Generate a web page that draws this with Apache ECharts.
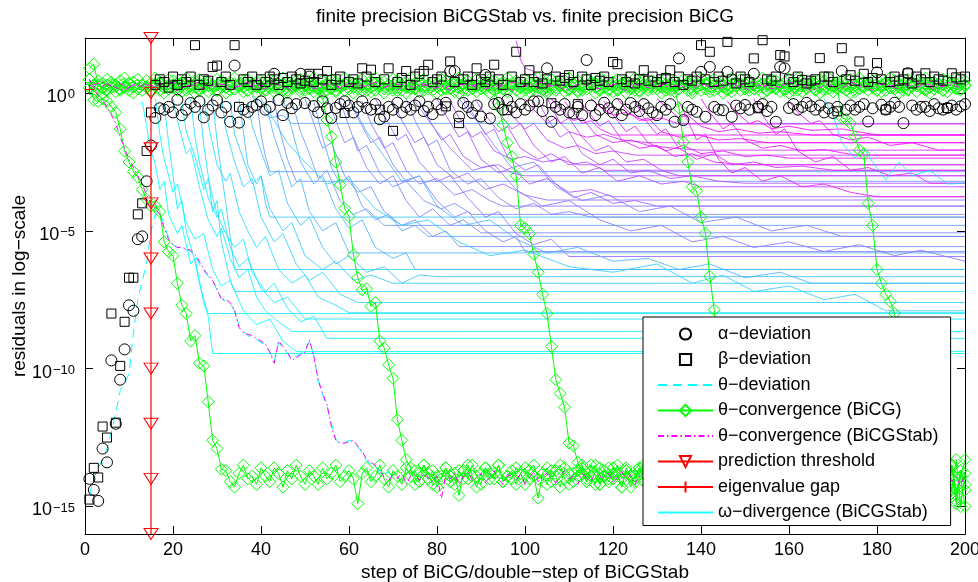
<!DOCTYPE html>
<html><head><meta charset="utf-8">
<script src="https://cdn.jsdelivr.net/npm/echarts@6/dist/echarts.min.js"></script>
<style>html,body{margin:0;padding:0;background:#fff}#c{width:978px;height:582px}</style>
</head><body><div id="c"></div>
<script>
// ---- axis ticks ----
const xRange = [0, 200];
const xTickStep = 20;
const yRangeExp = [-16, 2];           // residual exponents (log10)
const yTickExponents = [-15, -10, -5, 0];

// ---- alpha / beta deviation (log10 of residual), steps 1..200 ----
const alphaDeviation = [
-14.0,-14.4,-14.8,-12.9,-13.4,-9.7,-12.0,-10.4,-9.3,-7.7,-7.9,-5.3,-5.2,-3.2,-1.9,
-0.9,-0.55,-0.6,-0.5,-0.7,-0.24,-0.8,-0.6,-0.36,-0.5,-0.3,-0.88,-0.6,-0.45,-0.25,
-0.7,-0.5,-1.04,1.0,-1.07,-0.6,-0.68,-0.5,-0.43,-0.3,
-0.6,-0.5,0.7,-0.25,-0.8,-0.36,-0.55,-0.4,0.7,-0.36,
0.6,-0.47,-0.7,-0.3,-0.55,-0.9,-0.54,-0.4,-0.3,-0.45,
-0.7,-0.5,-0.3,-0.54,-0.6,-0.4,-0.95,-0.85,-0.5,-0.6,
-0.35,-0.7,-0.5,-0.6,-0.45,-0.3,-0.65,-0.5,-0.76,-0.4,
-0.6,-0.35,0.8,0.8,-0.85,-0.36,-0.5,-0.72,-0.45,-0.85,
0.66,-0.92,-0.4,-0.36,-0.6,-0.25,-0.5,-0.7,-0.4,-0.6,
-0.45,-0.3,-0.3,-0.65,0.9,-1.04,-0.5,-0.6,-0.4,-0.7,
-0.74,-0.5,-0.8,1.2,-0.45,-0.8,-0.6,-0.35,-0.55,-0.7,
-0.4,-0.8,-0.6,-0.36,-0.5,-0.65,-0.4,-0.55,-0.7,-0.8,
-0.5,-0.6,-0.4,-1.04,1.26,-0.98,-0.5,-0.6,-0.68,0.77,
-0.86,0.95,-0.5,-0.6,-0.62,0.77,-0.86,-0.45,-0.55,-0.43,
-0.6,0.7,-0.5,-0.4,-0.65,-0.5,-1.04,0.95,0.9,-0.54,
-0.4,-0.6,-0.5,-0.35,-0.48,-0.6,-0.45,-0.7,-0.55,-0.72,
-0.5,0.8,-0.6,-0.45,-0.6,-0.5,-0.4,-1.03,-0.55,0.75,
-0.42,-0.6,-0.5,-0.35,-0.5,-1.09,0.72,-0.45,-0.6,-0.5,
-0.5,-0.65,-0.4,-0.55,-0.6,-0.54,-0.45,-0.6,-0.48,-0.4];

const betaDeviation = [
-14.75,-13.6,-13.95,-12.1,-12.5,-8.0,-11.96,-9.9,-8.3,-6.7,-6.7,-4.4,-4.0,-2.1,-0.7,
0.3,0.5,0.4,0.2,0.6,0.3,0.5,0.4,0.6,1.74,0.3,0.5,0.45,0.95,1.0,
0.4,0.6,0.3,1.74,-0.5,0.5,0.4,0.6,0.3,0.5,
0.4,0.6,0.5,0.3,0.55,0.4,0.6,0.5,0.35,0.45,
0.7,0.4,0.7,0.5,0.8,0.3,0.5,0.6,-0.72,0.4,
0.5,0.35,0.9,0.6,0.85,0.4,-0.6,0.5,0.9,-1.37,
0.4,0.55,0.8,0.3,0.6,0.7,0.8,1.03,0.4,0.5,
0.6,-0.48,1.15,0.4,-1.09,0.5,0.6,0.3,0.9,0.5,
0.4,0.6,1.03,0.5,0.3,-0.62,0.6,1.5,0.4,0.5,
0.83,0.4,0.6,0.35,0.5,-0.37,0.6,0.45,0.55,0.65,
0.4,-0.4,0.6,0.5,0.3,0.55,0.45,0.6,0.4,1.13,
1.05,0.5,0.4,0.6,0.35,0.5,0.83,0.45,0.6,0.4,
0.5,0.55,0.83,0.4,0.6,0.3,0.5,0.45,0.6,1.74,
0.5,1.5,0.4,0.6,0.45,1.86,0.5,0.35,0.6,0.5,
0.4,1.26,-0.55,1.92,0.5,0.45,0.6,1.38,1.33,0.5,
0.4,0.6,0.48,0.35,0.45,0.5,1.27,0.6,0.6,0.4,
-0.66,1.63,0.5,0.65,0.45,1.15,0.7,0.4,0.55,1.09,
0.5,-0.6,0.4,0.6,0.45,0.5,0.72,0.35,0.6,0.5,
0.72,0.4,0.6,0.5,0.45,-0.54,0.72,0.57,0.5,0.6];

// ---- theta deviation (dashed cyan), steps 1..70 ----
const thetaDeviation = [
-14.6,-14.0,-13.6,-13.3,-12.9,-12.3,-11.6,-10.8,-10.5,-10.2,-8.7,-7.5,-6.8,-6.2,-5.0,-4.4,-4.3,
-4.8,-5.25,-5.5,-5.6,-5.55,-5.7,-5.75,-5.9,-6.2,-6.45,
-6.65,-6.8,-7.15,-7.45,-7.55,-7.65,-7.9,-8.45,-8.65,-8.8,
-8.85,-8.95,-9.05,-9.15,-9.4,-9.75,-9.05,-9.25,-9.45,-9.65,
-9.55,-9.45,-9.35,-9.0,-9.5,-10.45,-10.95,-11.35,-12.0,-12.55,
-12.75,-12.7,-12.6,-12.65,-12.85,-13.05,-13.35,-13.45,-13.55,-13.8,
-13.9,-13.7,-14.0];

// ---- theta convergence BiCG (green diamonds) ----
const bicgBand1 = [
0.9,1.05,0.3,0.2,0.15,0.3,0.25,0.1,0.2,0.35,0.25,0.15,0.3,0.2,0.1,0.25,0.35,0.2,0.15,0.3,
0.2,0.3,0.1,0.25,0.35,0.15,0.2,0.3,0.25,0.1,0.3,0.2,0.25,0.15,0.35,0.2,0.1,0.3,0.25,0.2,
0.15,0.3,0.2,0.35,0.25,0.1,0.2,0.3,0.15,0.25,0.35,0.2,0.15,0.25,0.3,0.2,0.1,0.25,0.35,0.15,
0.2,0.25,0.3,0.1,0.2,0.35,0.25,0.15,0.3,0.2,0.1,0.3,0.25,0.2,0.15,0.35,0.2,0.3,0.1,0.25,
0.3,0.15,0.2,0.35,0.25,0.1,0.3,0.2,0.25,0.15,0.25,0.35,0.1,0.2,0.3,0.15,0.25,0.35,0.2,0.1,
0.2,0.25,0.3,0.15,0.1,0.3,0.2,0.35,0.25,0.15,0.3,0.1,0.2,0.25,0.35,0.2,0.15,0.3,0.1,0.25,
0.15,0.3,0.35,0.2,0.25,0.1,0.3,0.2,0.15,0.35,0.25,0.2,0.1,0.3,0.15,0.25,0.35,0.1,0.2,0.3,
0.35,0.15,0.25,0.2,0.3,0.1,0.2,0.25,0.35,0.15,0.2,0.3,0.15,0.35,0.1,0.25,0.2,0.3,0.15,0.25,
0.1,0.25,0.3,0.2,0.35,0.15,0.25,0.1,0.3,0.2,0.3,0.2,0.1,0.25,0.15,0.35,0.2,0.3,0.25,0.1,
0.25,0.35,0.2,0.15,0.3,0.2,0.1,0.25,0.35,0.2,0.15,0.2,0.3,0.35,0.1,0.25,0.3,0.2,0.15,0.3];
const bicgBand2 = [
0.5,0.3,0.45,0.35,0.5,0.4,0.3,0.45,0.55,0.35,0.4,0.5,0.3,0.45,0.35,0.55,0.4,0.3,0.5,0.45,
0.35,0.4,0.55,0.3,0.45,0.5,0.35,0.4,0.3,0.5,0.45,0.35,0.4,0.55,0.3,0.45,0.5,0.35,0.4,0.45,
0.3,0.5,0.45,0.35,0.55,0.4,0.3,0.45,0.5,0.35,0.4,0.55,0.3,0.45,0.35,0.5,0.4,0.3,0.55,0.45,
0.35,0.4,0.5,0.3,0.45,0.55,0.35,0.4,0.3,0.5,0.45,0.3,0.4,0.55,0.35,0.45,0.5,0.3,0.4,0.35,
0.5,0.45,0.3,0.4,0.55,0.35,0.45,0.3,0.5,0.4,0.35,0.5,0.45,0.3,0.4,0.55,0.35,0.45,0.3,0.5,
0.4,0.3,0.55,0.45,0.35,0.5,0.4,0.3,0.45,0.55,0.35,0.45,0.3,0.5,0.4,0.35,0.55,0.45,0.3,0.4,
0.5,0.35,0.45,0.3,0.55,0.4,0.5,0.35,0.45,0.3,0.4,0.55,0.35,0.45,0.3,0.5,0.4,0.45,0.35,0.55,
0.3,0.4,0.5,0.35,0.45,0.3,0.55,0.4,0.5,0.35,0.45,0.3,0.4,0.55,0.35,0.5,0.45,0.3,0.4,0.5,
0.35,0.55,0.45,0.3,0.4,0.35,0.5,0.45,0.55,0.3,0.4,0.45,0.35,0.5,0.3,0.55,0.4,0.35,0.45,0.5,
0.3,0.4,0.55,0.45,0.35,0.3,0.5,0.4,0.45,0.35,0.55,0.35,0.4,0.3,0.5,0.45,0.35,0.55,0.4,0.45];
const bicgBand3 = [
0.2,0.05,0.15,0.0,0.1,0.2,0.05,0.15,0.25,0.1,0.0,0.15,0.1,0.2,0.05,0.25,0.1,0.0,0.15,0.2,
0.1,0.05,0.2,0.15,0.0,0.1,0.25,0.05,0.15,0.1,0.2,0.0,0.1,0.15,0.25,0.05,0.1,0.2,0.0,0.15,
0.1,0.2,0.05,0.15,0.1,0.0,0.2,0.25,0.05,0.1,0.15,0.05,0.2,0.0,0.1,0.15,0.05,0.2,0.1,0.25,
0.0,0.15,0.1,0.2,0.05,0.1,0.25,0.0,0.15,0.1,0.2,0.1,0.0,0.15,0.2,0.05,0.1,0.15,0.25,0.0,
0.1,0.2,0.15,0.05,0.0,0.2,0.1,0.15,0.05,0.25,0.15,0.0,0.1,0.2,0.15,0.05,0.25,0.1,0.0,0.2,
0.05,0.15,0.2,0.1,0.0,0.15,0.1,0.25,0.05,0.1,0.2,0.05,0.1,0.15,0.25,0.0,0.1,0.2,0.15,0.05,
0.1,0.2,0.0,0.15,0.1,0.05,0.2,0.1,0.25,0.15,0.0,0.1,0.2,0.05,0.15,0.25,0.1,0.0,0.2,0.1,
0.15,0.05,0.1,0.2,0.0,0.15,0.05,0.25,0.1,0.2,0.1,0.15,0.25,0.0,0.1,0.2,0.15,0.05,0.1,0.0,
0.2,0.1,0.05,0.15,0.25,0.1,0.0,0.2,0.15,0.05,0.15,0.2,0.1,0.0,0.05,0.15,0.25,0.1,0.2,0.1,
0.05,0.1,0.2,0.15,0.0,0.1,0.15,0.25,0.05,0.2,0.1,0.0,0.15,0.2,0.1,0.05,0.2,0.15,0.1,0.25];

const bicgConv1Start = 1;
const bicgConv1 = [
0.5,-0.25,-0.3,-0.2,-0.3,-0.5,-0.7,-1.3,-2.1,-2.5,-2.85,-3.05,-3.5,-3.85,-4.1,-4.1,-4.3,-5.4,-5.75,-5.9,
-6.9,-7.7,-8.0,-9.0,-8.8,-9.8,-9.9,-11.2,-12.6,-12.9,-13.65,
-13.7,-14.1,-14.3,-13.8,-13.5,-14.0,-13.9,-14.2,-13.6,-13.9,
-14.1,-13.6,-13.8,-14.3,-13.7,-14.0,-13.5,-13.9,-14.2,-13.7,
-13.9,-14.2,-13.6,-14.0,-13.8,-13.5,-14.1,-13.9,-13.7,-14.0,
-14.9,-13.8,-13.6,-14.1,-13.9,-13.5,-14.0,-14.3,-13.7,-13.9,
-14.2,-13.6,-13.9,-13.7,-14.1,-13.5,-13.8,-14.2,-13.9,-14.0,
-13.6,-13.9,-14.2,-13.7,-14.0,-13.5,-13.9,-14.3,-13.8,-13.6,
-14.0,-13.8,-13.5,-14.1,-13.9,-14.0,-13.6,-13.8,-14.2,-13.7,
-13.5,-14.0,-13.8,-14.2,-13.7,-13.9,-14.3,-13.6,-13.8,-14.1,
-13.7,-13.5,-14.0,-13.9,-14.2,-13.6,-13.9,-14.1,-13.8,-13.5,
-14.0,-13.7,-14.3,-13.9,-13.6,-14.1,-13.8,-13.5,-14.0,-13.9,
-14.2,-13.6,-13.9,-14.3,-13.7,-13.8,-14.1,-13.5,-13.8,-14.0,
-13.7,-14.2,-13.9,-13.6,-14.0,-13.8,-13.5,-14.2,-13.9,-13.7,
-14.0,-13.5,-13.9,-14.3,-13.8,-13.6,-14.1,-13.9,-13.7,-14.2,
-13.6,-13.9,-14.0,-13.7,-13.5,-14.2,-13.9,-13.8,-14.1,-13.6,
-13.9,-14.2,-13.7,-13.5,-14.0,-13.9,-14.3,-13.8,-13.6,-14.1,
-13.7,-13.9,-14.1,-13.5,-14.2,-13.8,-13.9,-14.2,-13.7,-13.6,
-14.0,-13.9,-13.5,-14.3,-13.8,-14.0,-14.6,-13.7,-14.4];

const bicgConv2Start = 50;
const bicgConv2 = [
0.3,0.2,0.35,0.2,-0.2,-0.98,-1.58,-2.5,-3.33,-4.18,-4.48,-5.87,-6.7,-7.14,-7.1,-7.74,-7.6,-9.0,-9.25,-9.86,
-10.35,-11.85,-12.6,-13.3,
-13.6,-14.2,-13.8,-13.5,-14.0,-13.7,-14.3,-13.9,-13.6,-14.1,
-13.8,-14.6,-13.7,-14.0,-13.5,-13.9,-14.2,-13.6,-13.8,-14.0,
-13.5,-14.1,-13.9,-13.7,-14.2,-13.8,-13.6,-14.0,-13.9,-14.7,
-13.8,-13.6,-14.1,-13.7,-13.5,-14.0,-14.2,-13.8,-13.9,-13.6,
-14.1,-13.7,-13.5,-14.2,-13.9,-13.6,-14.0,-13.8,-14.3,-13.7,
-13.9,-14.0,-13.6,-13.8,-14.2,-13.5,-13.9,-14.1,-13.7,-14.0,
-13.6,-14.2,-13.8,-13.9,-13.5,-14.1,-13.7,-14.0,-14.3,-13.8,
-13.5,-13.9,-14.2,-13.7,-14.0,-13.6,-13.8,-14.1,-13.9,-13.5,
-14.0,-13.8,-13.6,-14.2,-13.9,-13.7,-14.1,-13.5,-13.8,-14.0,
-13.7,-14.3,-13.9,-13.6,-14.0,-13.8,-14.2,-13.5,-13.9,-13.7,
-14.1,-13.6,-13.9,-14.2,-13.7,-13.5,-14.0,-13.8,-14.3,-13.6,
-13.9,-14.0,-13.7,-14.1,-13.5,-13.8,-14.2,-13.6,-13.9,-14.0,
-13.7,-14.1,-13.8,-13.5,-14.4,-13.9,-15.0];

const bicgConv3Start = 92;
const bicgConv3 = [
0.3,0.2,-0.5,-1.15,-1.8,-2.3,-3.0,-4.8,-4.9,-5.1,-5.85,-6.5,-7.3,-8.0,-9.2,-10.4,-10.9,-11.4,-12.7,-12.8,-13.4,
-13.8,-14.1,-13.5,-13.9,-14.2,-13.7,-14.0,-13.6,-13.8,-14.3,
-13.6,-13.9,-14.1,-13.7,-13.5,-14.0,-13.8,-14.2,-13.9,-13.6,
-14.0,-13.7,-14.3,-13.8,-13.5,-14.1,-13.9,-13.6,-14.0,-13.8,
-13.5,-14.2,-13.7,-13.9,-14.0,-13.6,-14.1,-13.8,-13.5,-13.9,
-14.2,-13.8,-13.6,-14.0,-13.9,-13.7,-14.3,-13.5,-13.8,-14.1,
-13.7,-13.9,-14.0,-13.6,-14.2,-13.8,-13.5,-14.1,-13.9,-13.7,
-14.0,-13.6,-13.8,-14.2,-13.9,-13.5,-14.1,-13.7,-14.0,-13.8,
-13.9,-14.3,-13.6,-13.8,-14.0,-13.5,-14.2,-13.9,-13.7,-14.1,
-13.6,-14.0,-13.8,-14.4,-13.5,-14.9,-13.7,-14.2];

const bicgConv4Start = 133;
const bicgConv4 = [
0.3,0.2,-0.55,-1.78,-2.5,-3.4,-3.55,-4.5,-5.08,-6.65,-7.86,-9.3,-11.2,-13.0,
-13.7,-14.0,-13.6,-14.2,-13.8,-13.5,-14.1,-13.9,-13.7,-14.3,
-13.6,-13.9,-14.0,-13.5,-14.2,-13.8,-13.6,-14.1,-13.9,-13.7,
-14.0,-13.8,-13.5,-14.2,-13.9,-13.6,-14.1,-13.7,-14.0,-13.8,
-13.5,-14.3,-13.9,-13.7,-14.0,-13.6,-14.2,-13.8,-13.5,-14.1,
-13.9,-13.7,-14.0,-13.6,-14.3,-13.8,-13.4,-14.1,-13.9,-14.5,
-13.5,-14.8,-13.9,-13.3];

const bicgConv5Start = 170;
const bicgConv5 = [
0.3,0.2,-0.9,-0.95,-1.1,-1.58,-2.07,-2.2,-4.0,-4.8,-6.4,-6.9,-7.3,-7.56,-8.0,-9.5,-11.2,-12.8,-13.6,
-13.9,-14.2,-13.6,-14.0,-13.8,-13.5,-14.1,-13.7,-14.4,-13.3,-15.0,-13.8];

// ---- theta convergence BiCGStab (magenta dash-dot) ----
const stabConv1 = [
0.5,0.2,-0.1,-0.25,-0.5,-0.8,-1.1,-1.6,-2.0,-2.4,
-2.7,-3.0,-3.3,-3.7,-4.0,-4.2,-4.4,-4.9,-5.3,-5.5,
-5.6,-5.6,-5.65,-5.7,-5.85,-6.1,-6.4,-6.6,-6.8,-7.1,
-7.5,-7.5,-7.6,-7.9,-8.5,-8.7,-8.75,-8.8,-8.9,-9.0,
-9.1,-9.4,-9.8,-9.0,-9.2,-9.4,-9.7,-9.6,-9.5,-9.4,
-8.95,-9.55,-10.4,-10.9,-11.3,-12.1,-12.6,-12.7,-12.7,-12.65,
-12.6,-12.8,-13.0,-13.3,-13.4,-13.5,
-13.7,-13.95,-14.1,-13.8,-14.0,-13.75,-14.2,-13.9,-13.85,-14.05,
-13.8,-13.95,-14.1,-13.9,-14.7,-13.85,-14.0,-13.8,-14.2,-13.9,
-13.75,-14.05,-13.95,-13.8,-14.15,-13.9,-13.7,-14.0,-14.2,-13.85,
-13.9,-14.05,-13.8,-14.2,-13.95,-13.75,-14.1,-13.9,-13.8,-14.0,
-14.15,-13.85,-13.7,-14.0,-13.9,-14.2,-13.8,-13.95,-14.1,-13.75,
-13.9,-14.0,-13.8,-14.15,-13.95,-13.7,-14.05,-13.85,-14.2,-13.9,
-13.8,-14.1,-13.75,-13.95,-14.0,-13.85,-14.2,-13.9,-13.7,-14.05,
-13.95,-13.8,-14.15,-13.9,-14.0,-13.75,-14.1,-13.85,-13.95,-14.2,
-13.8,-13.9,-14.05,-13.7,-14.0,-13.95,-14.15,-13.8,-13.9,-14.1,
-13.75,-14.0,-13.85,-14.2,-13.9,-13.8,-14.05,-13.95,-13.7,-14.1,
-13.9,-14.15,-13.8,-14.0,-13.85,-13.75,-14.2,-13.9,-14.05,-13.8,
-14.0,-13.9,-13.7,-14.15,-13.85,-14.0,-13.95,-14.1,-13.8,-13.9,
-14.05,-13.75,-14.2,-13.9,-13.85,-14.0,-13.8,-14.1,-13.95,-13.75,
-14.1,-13.9,-14.3,-13.8];
// every second step, starting at step 1 and step 2
const stabBandOdd = [
0.3,0.15,0.35,0.2,0.1,0.3,0.25,0.15,0.35,0.2,0.1,0.25,0.3,0.15,0.2,0.35,0.1,0.25,0.3,0.2,
0.15,0.35,0.25,0.1,0.3,0.2,0.15,0.35,0.25,0.1,0.3,0.2,0.35,0.15,0.25,0.1,0.3,0.2,0.35,0.15,
0.25,0.1,0.3,0.35,0.2,0.15,0.25,0.3,0.1,0.2,0.35,0.15,0.25,0.3,0.1,0.2,0.35,0.25,0.15,0.3,
0.2,0.1,0.35,0.25,0.15,0.3,0.2,0.35,0.1,0.25,0.3,0.15,0.2,0.35,0.25,0.1,0.3,0.2,0.15,0.35,
0.25,0.3,0.1,0.2,0.35,0.15,0.25,0.3,0.2,0.1,0.35,0.25,0.15,0.3,0.2,0.35,0.1,0.25,0.3,0.2];
const stabBandEven = [
0.3,0.4,0.25,0.35,0.2,0.4,0.3,0.25,0.35,0.4,0.2,0.3,0.4,0.25,0.35,0.3,0.2,0.4,0.35,0.25,
0.4,0.3,0.2,0.35,0.4,0.25,0.3,0.4,0.2,0.35,0.3,0.25,0.4,0.2,0.35,0.3,0.4,0.25,0.3,0.4,
0.2,0.35,0.3,0.25,0.4,0.3,0.2,0.35,0.4,0.25,0.3,0.4,0.25,0.35,0.2,0.3,0.4,0.25,0.35,0.3,
0.4,0.2,0.3,0.4,0.25,0.35,0.3,0.2,0.4,0.35,0.25,0.3,0.4,0.2,0.35,0.4,0.25,0.3,0.2,0.4,
0.35,0.25,0.3,0.4,0.2,0.35,0.4,0.3,0.25,0.4,0.2,0.3,0.35,0.25,0.4,0.3,0.2,0.4,0.35,0.25];

// ---- prediction threshold / eigenvalue gap ----
const thresholdStep = 15;
const thresholdMarks = [2, 0, -2, -4, -6, -8, -10, -12, -14, -16];
const eigenvalueGap = [[1, 0.13]];

// ---- omega divergence (BiCGStab): [step, log10 residual] key points ----
const omegaLines = [
[[13,-0.3],[14,-1.2],[15,-2.1],[16,-2.6],[17,-3.5],[18,-3.2],[19,-4.4],[21,-5.1],[22,-4.8],[24,-6.2],[25,-6.0],[27,-7.6],[28,-8.1],[29,-9.45],[200,-9.45]],
[[16,-0.2],[17,-1.5],[18,-2.4],[20,-3.6],[21,-3.3],[23,-4.7],[25,-5.3],[27,-5.1],[29,-6.4],[31,-7.0],[33,-6.8],[36,-7.9],[39,-8.4],[42,-8.2],[45,-9.0],[48,-9.38],[200,-9.38]],
[[18,-0.4],[19,-1.8],[20,-3.0],[21,-4.2],[22,-3.9],[23,-5.0],[25,-6.1],[26,-6.9],[27,-7.5],[28,-8.0],[200,-8.0]],
[[20,-0.2],[21,-1.0],[23,-2.2],[24,-2.0],[26,-3.4],[28,-4.6],[30,-5.2],[31,-4.9],[33,-6.0],[35,-6.7],[37,-6.4],[39,-7.4],[41,-7.9],[44,-8.3],[47,-8.65],[200,-8.65]],
[[22,-0.3],[23,-1.4],[25,-2.3],[27,-3.5],[28,-3.1],[30,-4.4],[32,-5.1],[34,-5.6],[36,-5.3],[38,-6.5],[41,-7.2],[43,-6.9],[46,-7.8],[49,-8.3],[52,-8.1],[55,-8.9],[200,-8.9]],
[[24,-0.2],[25,-1.6],[26,-2.5],[28,-3.8],[30,-4.5],[31,-4.2],[33,-5.6],[35,-6.3],[37,-6.0],[40,-7.1],[43,-7.6],[46,-7.4],[50,-8.2],[200,-8.2]],
[[26,-0.4],[27,-1.9],[28,-3.0],[29,-4.3],[30,-3.9],[31,-5.4],[32,-6.1],[33,-6.8],[34,-7.2],[200,-7.2]],
[[27,-0.2],[28,-1.1],[30,-2.6],[32,-3.2],[33,-2.9],[35,-4.3],[37,-5.0],[39,-5.6],[41,-5.2],[44,-6.4],[47,-6.9],[50,-6.6],[53,-7.4],[57,-7.7],[60,-7.97],[200,-7.97]],
[[29,-0.3],[30,-1.7],[31,-2.9],[32,-4.0],[33,-5.2],[34,-6.4],[200,-6.4]],
[[31,-0.2],[32,-1.3],[34,-2.5],[36,-3.4],[38,-3.1],[40,-4.5],[43,-5.4],[45,-5.1],[48,-6.2],[51,-6.8],[54,-6.5],[58,-7.3],[62,-7.6],[200,-7.6]],
[[33,-0.3],[34,-1.5],[36,-2.4],[38,-3.3],[40,-3.0],[42,-4.2],[45,-5.0],[47,-4.7],[50,-5.9],[54,-6.4],[57,-6.1],[61,-6.8],[65,-6.6],[70,-6.9],[200,-6.9]],
[[35,-0.2],[36,-1.4],[37,-2.6],[39,-3.3],[40,-3.0],[41,-4.0],[42,-4.5],[200,-4.5]],
[[37,-0.3],[38,-1.2],[40,-2.1],[42,-3.0],[44,-2.8],[46,-4.0],[49,-4.8],[51,-4.5],[54,-5.6],[57,-6.2],[60,-5.9],[64,-6.5],[68,-6.3],[72,-6.9],[76,-6.6],[80,-6.66],[200,-6.66]],
[[38,-0.1],[40,-0.6],[42,-0.9],[45,-0.8],[47,-1.1],[200,-1.1]],
[[39,-0.2],[40,-1.5],[41,-2.3],[42,-2.85],[200,-2.85]],
[[41,-0.3],[43,-1.6],[45,-2.5],[47,-3.4],[49,-3.1],[51,-4.3],[54,-5.0],[57,-4.7],[60,-5.8],[200,-5.8]],
[[43,-0.2],[44,-1.2],[46,-2.4],[48,-3.2],[200,-3.2]],
[[45,-0.2],[47,-1.3],[49,-2.5],[52,-3.3],[54,-3.0],[57,-4.2],[60,-4.9],[63,-4.6],[66,-5.6],[70,-6.0],[73,-5.8],[75,-6.4],[200,-6.4]],
[[47,-0.3],[49,-1.4],[51,-2.2],[53,-3.1],[55,-2.8],[58,-3.9],[61,-4.4],[64,-4.2],[68,-4.8],[200,-4.8]],
[[50,-0.2],[52,-1.1],[54,-2.0],[56,-1.8],[59,-3.0],[62,-3.6],[65,-3.4],[68,-4.3],[72,-4.8],[75,-4.6],[79,-5.2],[82,-5.0],[85,-5.57],[200,-5.57]],
[[52,-0.3],[54,-1.6],[56,-2.7],[58,-3.3],[60,-3.0],[63,-4.1],[66,-4.6],[69,-4.4],[72,-5.0],[75,-4.8],[78,-5.2],[200,-5.2]],
[[55,-0.2],[57,-1.0],[59,-1.8],[61,-1.6],[64,-2.7],[67,-3.3],[70,-3.0],[73,-3.9],[76,-4.5],[79,-4.2],[83,-4.8],[86,-4.6],[90,-5.07],[200,-5.07]],
[[58,-0.3],[60,-1.2],[62,-2.1],[64,-1.9],[67,-2.9],[70,-3.4],[73,-3.2],[77,-3.9],[81,-4.2],[84,-4.0],[88,-4.4],[200,-4.4]],
[[60,-0.2],[62,-0.9],[65,-1.8],[67,-1.6],[70,-2.6],[73,-3.2],[76,-3.0],[80,-3.9],[84,-4.5],[87,-4.3],[91,-5.0],[95,-5.4],[98,-5.2],[100,-5.75],[200,-5.75]],
[[63,-0.3],[65,-1.1],[68,-2.0],[70,-1.8],[73,-2.8],[76,-3.3],[80,-3.1],[84,-3.7],[88,-3.5],[92,-3.9],[95,-4.1],[200,-4.1]],
[[66,-0.2],[68,-0.8],[71,-1.7],[73,-1.5],[76,-2.5],[80,-3.2],[83,-3.0],[87,-3.8],[91,-4.5],[94,-4.3],[98,-5.1],[102,-5.5],[106,-5.3],[110,-5.93],[200,-5.93]],
[[70,-0.3],[72,-1.0],[75,-1.8],[77,-1.6],[80,-2.6],[84,-3.1],[87,-2.9],[91,-3.5],[95,-3.3],[100,-3.7],[105,-3.88],[200,-3.88]],
[[73,-0.2],[75,-1.0],[78,-1.9],[80,-1.7],[83,-2.8],[87,-3.3],[90,-3.1],[94,-3.8],[98,-4.2],[102,-4.0],[106,-4.4],[110,-4.3],[115,-4.5],[200,-4.5]],
[[76,-0.3],[78,-0.9],[81,-1.7],[83,-1.5],[86,-2.3],[90,-2.7],[94,-2.6],[97,-2.9],[100,-3.0],[200,-3.0]],
[[80,-0.2],[82,-0.8],[85,-1.6],[87,-1.4],[90,-2.4],[94,-2.9],[97,-2.7],[101,-3.3],[105,-3.1],[110,-3.6],[115,-3.5],[120,-3.76],[200,-3.76]],
[[83,-0.3],[85,-0.9],[88,-1.6],[90,-1.4],[93,-2.1],[97,-2.4],[100,-2.3],[104,-2.5],[108,-2.4],[112,-2.6],[200,-2.6]],
[[86,-0.2],[88,-0.7],[91,-1.5],[93,-1.3],[96,-2.3],[100,-2.8],[103,-2.6],[107,-3.3],[111,-3.8],[115,-3.6],[120,-4.0],[125,-3.9],[130,-4.1],[200,-4.1]],
[[89,-0.3],[91,-0.8],[94,-1.4],[96,-1.2],[99,-2.0],[103,-2.4],[106,-2.2],[110,-2.6],[114,-2.5],[118,-2.8],[200,-2.8]],
[[92,-0.2],[94,-0.7],[97,-1.3],[99,-1.1],[102,-1.9],[106,-2.5],[109,-2.3],[113,-2.9],[117,-2.7],[121,-3.2],[126,-3.0],[131,-3.3],[136,-3.2],[140,-3.4],[200,-3.4]],
[[95,-0.3],[97,-0.8],[100,-1.3],[102,-1.1],[105,-1.7],[109,-2.0],[112,-1.9],[116,-2.2],[120,-2.1],[125,-2.25],[200,-2.25]],
[[98,1.9],[99,1.2],[100,0.9],[102,0.8],[104,0.2],[106,-0.5],[108,-1.1],[110,-0.9],[113,-1.6],[116,-2.1],[119,-1.9],[123,-2.5],[127,-2.4],[131,-2.8],[135,-3.0],[200,-3.0]],
[[100,-0.2],[102,-0.6],[105,-1.1],[107,-0.9],[110,-1.4],[114,-1.6],[118,-1.5],[122,-1.7],[128,-1.8],[200,-1.8]],
[[103,-0.3],[105,-0.9],[108,-1.6],[110,-1.4],[113,-2.2],[117,-2.6],[120,-2.4],[124,-2.9],[128,-2.8],[133,-3.1],[138,-3.0],[144,-3.2],[150,-3.27],[200,-3.27]],
[[106,-0.2],[108,-0.6],[111,-1.0],[113,-0.9],[116,-1.5],[120,-1.8],[124,-1.7],[128,-1.9],[134,-2.0],[140,-2.07],[200,-2.07]],
[[109,-0.3],[111,-0.7],[113,-1.1],[115,-1.0],[117,-1.3],[120,-1.52],[200,-1.52]],
[[112,-0.2],[114,-0.6],[117,-1.2],[119,-1.0],[122,-1.7],[126,-2.0],[130,-1.9],[134,-2.3],[138,-2.2],[143,-2.5],[150,-2.6],[200,-2.6]],
[[115,-0.2],[117,-0.5],[120,-0.8],[123,-0.7],[127,-1.0],[131,-0.9],[135,-1.12],[200,-1.12]],
[[118,-0.3],[120,-0.8],[123,-1.4],[125,-1.2],[128,-1.8],[132,-2.1],[136,-1.9],[140,-2.2],[145,-2.1],[150,-2.3],[155,-2.25],[160,-2.36],[200,-2.36]],
[[121,-0.2],[123,-0.6],[126,-1.0],[128,-0.9],[131,-1.4],[135,-1.6],[139,-1.5],[144,-1.7],[149,-1.65],[155,-1.8],[200,-1.8]],
[[125,-0.3],[127,-0.9],[130,-1.5],[132,-1.3],[135,-2.0],[139,-2.4],[143,-2.2],[147,-2.6],[152,-2.5],[157,-2.7],[163,-2.65],[170,-2.8],[200,-2.8]],
[[130,-0.2],[132,-0.5],[135,-0.9],[137,-0.8],[140,-1.2],[144,-1.4],[148,-1.3],[153,-1.45],[158,-1.4],[165,-1.52],[200,-1.52]],
[[135,-0.3],[137,-1.0],[139,-1.7],[141,-1.5],[144,-2.4],[147,-2.9],[150,-2.7],[154,-3.2],[158,-3.0],[163,-3.4],[168,-3.3],[174,-3.6],[180,-3.76],[200,-3.76]],
[[140,-0.2],[142,-0.7],[145,-1.3],[147,-1.1],[150,-1.7],[154,-2.0],[158,-1.9],[163,-2.1],[168,-2.05],[175,-2.25],[200,-2.25]],
[[146,-0.3],[148,-0.7],[151,-1.1],[153,-1.0],[156,-1.3],[160,-1.2],[165,-1.35],[172,-1.3],[180,-1.52],[200,-1.52]],
[[152,-0.2],[154,-0.8],[157,-1.5],[159,-1.3],[162,-2.1],[166,-2.5],[170,-2.3],[174,-2.8],[178,-2.7],[183,-3.0],[188,-2.9],[192,-3.27],[200,-3.27]],
[[160,-0.3],[162,-0.7],[165,-1.1],[167,-1.0],[170,-1.5],[174,-1.7],[178,-1.6],[183,-1.9],[188,-1.8],[194,-2.07],[200,-2.07]],
[[168,-0.2],[170,-0.8],[172,-1.8],[175,-2.36],[177,-2.0],[179,-2.5],[182,-3.15],[185,-2.5],[188,-3.0],[192,-2.8],[196,-3.3],[200,-3.27]],
[[40,-0.2],[43,-1.0],[46,-1.8],[50,-2.5],[55,-3.3],[60,-3.1],[66,-4.2],[72,-4.8],[78,-4.6],[85,-5.4],[92,-5.9],[100,-5.7],[110,-6.3],[120,-6.5],[130,-6.2],[138,-6.9],[145,-6.6],[152,-7.2],[160,-7.0],[168,-7.5],[175,-7.3],[182,-7.9],[200,-7.9]],
[[60,-0.2],[64,-1.4],[68,-2.3],[72,-3.2],[76,-3.0],[80,-4.1],[86,-4.8],[92,-4.6],[98,-5.3],[105,-5.8],[112,-5.6],[120,-6.1],[128,-6.0],[135,-6.4],[142,-6.2],[150,-6.7],[158,-6.5],[165,-6.9],[200,-6.9]],
[[75,-0.3],[79,-1.2],[83,-2.0],[88,-2.8],[93,-2.6],[98,-3.5],[104,-4.1],[110,-3.9],[117,-4.6],[124,-5.0],[131,-4.8],[138,-5.4],[145,-5.2],[152,-5.6],[160,-5.4],[168,-5.75],[176,-5.5],[184,-5.9],[190,-5.7],[200,-6.1]],
[[85,-0.2],[89,-1.0],[93,-1.9],[97,-2.7],[102,-2.5],[107,-3.4],[113,-3.9],[119,-3.7],[126,-4.3],[133,-4.1],[140,-4.7],[148,-4.5],[156,-5.0],[164,-4.8],[172,-5.2],[200,-5.2]]
];
// colormap position (cool: cyan -> magenta) of each omega line
const omegaTones = [0,0.02,0.04,0.06,0.08,0.1,0.12,0.14,0.16,0.18,0.2,0.22,0.24,0.35,0.4,0.3,0.42,0.28,0.4,0.45,0.38,0.5,0.46,0.52,0.55,0.58,
0.6,0.5,0.65,0.68,0.7,0.62,0.72,0.75,0.78,0.8,0.83,0.7,0.86,0.95,0.9,1.0,0.93,0.97,0.85,0.98,0.92,0.96,1.0,0.88,0.94,0.12,0.2,0.3,0.55,0.5];

// ---------------- chart ----------------
const F = 'Liberation Sans, Arial, Helvetica, sans-serif';
const pts = (start, vals, stride) => vals.map((v, i) => [start + i * (stride || 1), v]);
const cool = t => `rgb(${Math.round(255*t)},${Math.round(255*(1-t))},255)`;
const NAME_A = 'α−deviation', NAME_B = 'β−deviation', NAME_TD = 'θ−deviation',
      NAME_G = 'θ−convergence (BiCG)', NAME_M = 'θ−convergence (BiCGStab)',
      NAME_P = 'prediction threshold', NAME_E = 'eigenvalue gap', NAME_W = 'ω−divergence (BiCGStab)';

const series = [];
omegaLines.forEach((line, i) => series.push({
  name: NAME_W, type: 'line', data: line, symbol: 'none', z: 2,
  lineStyle: { width: 1, color: cool(omegaTones[i]), opacity: 0.85 }
}));
series.push({ name: NAME_TD, type: 'line', data: pts(1, thetaDeviation), symbol: 'none', z: 3,
  lineStyle: { width: 1, color: '#00ffff', type: [9, 6] } });
const green = (data) => ({ name: NAME_G, type: 'line', data, z: 4, symbol: 'diamond', symbolSize: 12,
  showAllSymbol: true, itemStyle: { color: 'none', borderColor: '#00ff00', borderWidth: 1 },
  lineStyle: { width: 1, color: '#00ff00' } });
series.push(green(pts(1, bicgBand1)), green(pts(1, bicgBand2)), green(pts(1, bicgBand3)),
  green(pts(bicgConv1Start, bicgConv1)), green(pts(bicgConv2Start, bicgConv2)),
  green(pts(bicgConv3Start, bicgConv3)), green(pts(bicgConv4Start, bicgConv4)),
  green(pts(bicgConv5Start, bicgConv5)));
const magenta = (data) => ({ name: NAME_M, type: 'line', data, z: 5, symbol: 'none',
  lineStyle: { width: 1, color: '#ff00ff', type: [6, 3, 1.5, 3] } });
series.push(magenta(pts(1, stabConv1)), magenta(pts(1, stabBandOdd, 2)), magenta(pts(2, stabBandEven, 2)));
series.push({ name: NAME_A, type: 'line', data: pts(1, alphaDeviation), z: 6, symbol: 'circle', symbolSize: 11,
  showAllSymbol: true, itemStyle: { color: 'none', borderColor: '#000', borderWidth: 1 }, lineStyle: { width: 0 } });
series.push({ name: NAME_B, type: 'line', data: pts(1, betaDeviation), z: 6, symbol: 'rect', symbolSize: 9,
  showAllSymbol: true, itemStyle: { color: 'none', borderColor: '#000', borderWidth: 1 }, lineStyle: { width: 0 } });
series.push({ name: NAME_P, type: 'line', data: thresholdMarks.map(e => [thresholdStep, e]), z: 7, clip: false,
  symbol: 'triangle', symbolRotate: 180, symbolSize: [14, 11], showAllSymbol: true,
  itemStyle: { color: 'none', borderColor: '#ff0000', borderWidth: 1 }, lineStyle: { width: 1.2, color: '#ff0000' } });
series.push({ name: NAME_E, type: 'line', data: eigenvalueGap, z: 7, clip: false,
  symbol: 'path://M5,0L5,10M0,5L10,5', symbolSize: 10,
  itemStyle: { color: 'none', borderColor: '#ff0000', borderWidth: 1 }, lineStyle: { width: 1, color: '#ff0000' } });
series.forEach(s => { s.silent = true; s.animation = false; s.emphasis = { disabled: true }; });

const sup = e => (e < 0 ? '−' + (-e) : '' + e);
const axisCommon = { axisLine: { show: true, onZero: false, lineStyle: { color: '#000', width: 1 } },
  splitLine: { show: false } };
const hidden = { itemStyle: { opacity: 0 } };

const option = {
  animation: false,
  backgroundColor: '#fff',
  title: { text: 'finite precision BiCGStab vs. finite precision BiCG', left: 520, top: 2, textAlign: 'center',
    textStyle: { fontFamily: F, fontSize: 19, fontWeight: 'normal', color: '#000' } },
  grid: { left: 85, right: 13, top: 38, bottom: 48, containLabel: false, outerBoundsMode: 'none' },
  legend: {
    z: 50, zlevel: 0,
    left: 643, top: 317, orient: 'vertical', align: 'left',
    itemWidth: 55, itemHeight: 14, itemGap: 7.5, padding: [8, 12, 4, 14],
    backgroundColor: '#fff', borderColor: '#000', borderWidth: 1, borderRadius: 0,
    textStyle: { fontFamily: F, fontSize: 18, color: '#000', lineHeight: 18 },
    selectedMode: false,
    data: [ { name: NAME_A }, { name: NAME_B }, Object.assign({ name: NAME_TD }, hidden),
      { name: NAME_G }, Object.assign({ name: NAME_M }, hidden), { name: NAME_P }, { name: NAME_E },
      Object.assign({ name: NAME_W }, hidden) ]
  },
  xAxis: [
    Object.assign({ type: 'value', min: xRange[0], max: xRange[1], interval: xTickStep, position: 'bottom',
      name: 'step of BiCG/double−step of BiCGStab', nameLocation: 'middle', nameGap: 29, nameMoveOverlap: false,
      nameTextStyle: { fontFamily: F, fontSize: 19, color: '#000' },
      axisTick: { inside: true, length: 8, lineStyle: { color: '#000' } },
      axisLabel: { fontFamily: F, fontSize: 18, color: '#000', margin: 7 } }, axisCommon),
    Object.assign({ type: 'value', min: xRange[0], max: xRange[1], interval: xTickStep, position: 'top',
      axisTick: { inside: true, length: 8, lineStyle: { color: '#000' } }, axisLabel: { show: false } }, axisCommon)
  ],
  yAxis: [
    Object.assign({ type: 'value', min: yRangeExp[0], max: yRangeExp[1], position: 'left',
      name: 'residuals in log−scale', nameLocation: 'middle', nameRotate: 90, nameGap: 56, nameMoveOverlap: false,
      nameTextStyle: { fontFamily: F, fontSize: 19, color: '#000' },
      axisTick: { inside: true, length: 8, customValues: yTickExponents, lineStyle: { color: '#000' } },
      axisLabel: { customValues: yTickExponents, margin: 10, padding: [8, 0, 0, 0],
        formatter: v => '{b|10}{s|' + sup(Math.round(v)) + '}',
        rich: { b: { fontFamily: F, fontSize: 18, color: '#000', lineHeight: 18, verticalAlign: 'bottom' },
                s: { fontFamily: F, fontSize: 13, color: '#000', lineHeight: 13, verticalAlign: 'top', padding: [0, 0, 9, 1] } } }
    }, axisCommon),
    Object.assign({ type: 'value', min: yRangeExp[0], max: yRangeExp[1], position: 'right',
      axisTick: { inside: true, length: 8, customValues: yTickExponents, lineStyle: { color: '#000' } },
      axisLabel: { show: false, customValues: yTickExponents } }, axisCommon)
  ],
  series: series
};
const chart = echarts.init(document.getElementById('c'), null, { renderer: 'canvas' });
chart.setOption(option);
</script>
</body></html>
